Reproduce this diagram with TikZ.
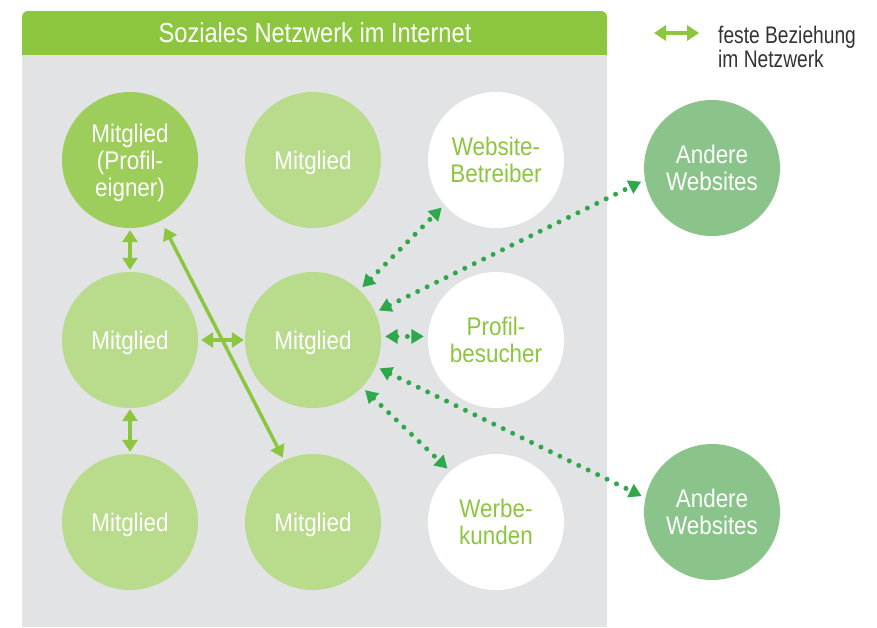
\documentclass[tikz,border=0pt]{standalone}
\usepackage{fontspec}
\setmainfont{Liberation Sans}
\newfontfamily\circfont[FakeStretch=0.88]{Liberation Sans}
\newfontfamily\titlefont[FakeStretch=0.86]{Liberation Sans}
\newfontfamily\legfont[FakeStretch=0.80]{Liberation Sans}
\usetikzlibrary{arrows.meta}
\definecolor{barGreen}{HTML}{8CC63F}
\definecolor{panelGray}{HTML}{E2E3E5}
\definecolor{lightGreen}{HTML}{B9DB8C}
\definecolor{ownerGreen}{HTML}{9DCD5A}
\definecolor{siteGreen}{HTML}{8BC48A}
\definecolor{dotGreen}{HTML}{2EA84A}
\definecolor{legGray}{HTML}{333333}
\begin{document}
\begin{tikzpicture}[x=1pt,y=-1pt,
  member/.style={circle, minimum size=136pt, inner sep=0pt, fill=lightGreen, text=white, align=center, text depth=0pt, font=\circfont\fontsize{25.5}{27}\selectfont},
  owner/.style={member, fill=ownerGreen},
  extern/.style={member, fill=white, text=barGreen},
  site/.style={member, fill=siteGreen},
  fixedrel/.style={draw=barGreen, line width=3.5pt, {Triangle[length=12pt,width=15pt]}-{Triangle[length=12pt,width=15pt]}},
  flowrel/.style={draw=dotGreen, line width=5pt, line cap=round, dash pattern=on 0pt off 10.5pt, {Triangle[length=12.5pt,width=14pt]}-{Triangle[length=12.5pt,width=14pt]}, shorten <=4pt, shorten >=4pt},
  legtext/.style={anchor=base west, inner sep=0pt, text=legGray, font=\legfont\fontsize{24}{23}\selectfont}
]
\useasboundingbox (0,0) rectangle (877,627);
% panel
\fill[panelGray] (22,54) rectangle (607,627);
\fill[barGreen, rounded corners=6pt] (22,11) rectangle (607,40);
\fill[barGreen] (22,28) rectangle (607,55);
\node[font=\titlefont\fontsize{27.5}{27.5}\selectfont, text=white, inner sep=0pt] (title) at (315,33) {Soziales Netzwerk im Internet};

% circles
\node[owner]  (tl) at (130,160) {Mitglied\\(Profil-\\eigner)};
\node[member] (tm) at (313,160) {Mitglied};
\node[extern] (tr) at (496,160) {Website-\\Betreiber};
\node[member] (ml) at (130,340) {Mitglied};
\node[member] (mm) at (313,340) {Mitglied};
\node[extern] (mr) at (496,340) {Profil-\\besucher};
\node[member] (bl) at (130,522) {Mitglied};
\node[member] (bm) at (313,522) {Mitglied};
\node[extern] (br) at (496,522) {Werbe-\\kunden};
\node[site]   (aw1) at (712,168) {Andere\\Websites};
\node[site]   (aw2) at (712,512) {Andere\\Websites};

% fixed relations
\draw[fixedrel, shorten <=2pt, shorten >=2pt] (tl.south) -- (ml.north);
\draw[fixedrel, shorten <=1pt, shorten >=2pt] (ml.south) -- (bl.north);
\draw[fixedrel, shorten <=3pt, shorten >=1pt] (ml.east) -- (mm.west);
\draw[fixedrel, shorten <=8pt, shorten >=3pt] (tl.-63) -- (bm.115);

% flows
\draw[flowrel] (mm.47) -- (tr.221);
\draw[flowrel] (mm.24) -- (aw1.190);
\draw[flowrel] (mm.3) -- (mr.177);
\draw[flowrel] (mm.-44) -- (br.132);
\draw[flowrel] (mm.-23) -- (aw2.168);

% legend
\coordinate (la) at (654,33);
\coordinate (lb) at (699,33);
\draw[fixedrel] (la) -- (lb);
\node[legtext] (leg1) at (718,43) {feste Beziehung};
\node[legtext] (leg2) at (718,67) {im Netzwerk};
\end{tikzpicture}
\end{document}
